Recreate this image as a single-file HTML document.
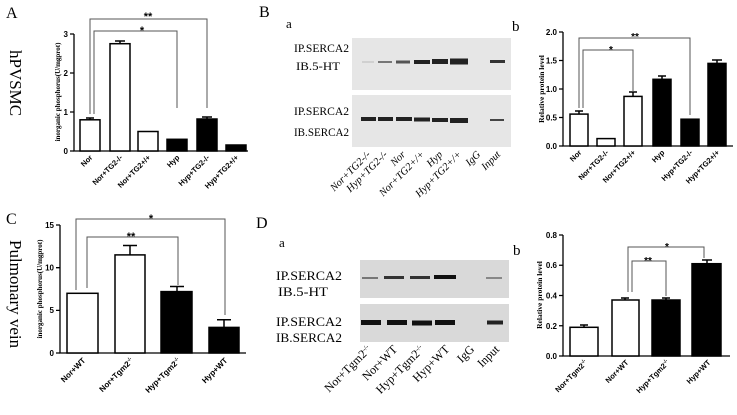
<!DOCTYPE html>
<html><head><meta charset="utf-8"><style>
html,body{margin:0;padding:0;background:#fff;}
svg{display:block;}
.s{font-family:"Liberation Serif",serif;}
.a{font-family:"Liberation Sans",sans-serif;font-weight:bold;}
</style></head><body>
<svg width="737" height="415" viewBox="0 0 737 415" xmlns="http://www.w3.org/2000/svg">
<rect width="737" height="415" fill="#fff"/>

<!-- Panel A -->
<text x="6" y="18" class="s" font-size="16">A</text>
<text class="s" font-size="17" transform="translate(10,50) rotate(90)">hPVSMC</text>
<text class="s" font-weight="bold" font-size="7" text-anchor="middle" transform="translate(60,92) rotate(-90)">inorganic phosphorus(U/mgprot)</text>
<g stroke="#000" stroke-width="1.3" fill="none">
<path d="M74,34 V151 H248"/>
<path d="M70,151H74M70,112H74M70,73H74M70,34H74"/>
</g>
<g class="a" font-size="8" text-anchor="end">
<text x="68" y="154">0</text><text x="68" y="115">1</text><text x="68" y="76">2</text><text x="68" y="37">3</text>
</g>
<g stroke="#000" stroke-width="1.5">
<rect x="80" y="119.8" width="20" height="31.2" fill="#fff"/>
<rect x="110" y="43.7" width="20" height="107.3" fill="#fff"/>
<rect x="138" y="131.5" width="20" height="19.5" fill="#fff"/>
<rect x="167" y="139.3" width="20" height="11.7" fill="#000"/>
<rect x="197" y="119" width="20" height="32" fill="#000"/>
<rect x="226" y="145" width="20" height="6" fill="#000"/>
<path d="M120,43.7V41M115,41H125M90,119.8V118M86,118H94M207,119V117M202,117H212" fill="none"/>
</g>
<g stroke="#555" stroke-width="1" fill="none">
<path d="M90,114V19H207V108"/>
<path d="M94,114V31H177V108"/>
</g>
<text x="148" y="20" class="a" font-size="11" text-anchor="middle">**</text>
<text x="142" y="34" class="a" font-size="11" text-anchor="middle">*</text>
<g class="a" font-size="7.5" text-anchor="end">
<text transform="translate(93,158) rotate(-45)">Nor</text>
<text transform="translate(123,158) rotate(-45)">Nor+TG2-/-</text>
<text transform="translate(151,158) rotate(-45)">Nor+TG2+/+</text>
<text transform="translate(180,158) rotate(-45)">Hyp</text>
<text transform="translate(210,158) rotate(-45)">Hyp+TG2-/-</text>
<text transform="translate(239,158) rotate(-45)">Hyp+TG2+/+</text>
</g>

<!-- Panel B a -->
<text x="259" y="17" class="s" font-size="16">B</text>
<text x="286" y="28" class="s" font-size="13">a</text>
<g class="s" font-size="12">
<text x="294" y="52" textLength="55" lengthAdjust="spacingAndGlyphs">IP.SERCA2</text>
<text x="296" y="70" textLength="44" lengthAdjust="spacingAndGlyphs">IB.5-HT</text>
<text x="294" y="115" textLength="55" lengthAdjust="spacingAndGlyphs">IP.SERCA2</text>
<text x="294" y="136" textLength="55" lengthAdjust="spacingAndGlyphs">IB.SERCA2</text>
</g>
<rect x="352" y="38" width="159" height="52" fill="#e6e6e6"/>
<rect x="352" y="95" width="159" height="52" fill="#e6e6e6"/>
<g fill="#222">
<rect x="362" y="61.5" width="12" height="1" fill="#bbb"/>
<rect x="378" y="61" width="14" height="2" fill="#777"/>
<rect x="396" y="60.5" width="14" height="3" fill="#555"/>
<rect x="414" y="60" width="16" height="4"/>
<rect x="432" y="59" width="16" height="5"/>
<rect x="450" y="58.5" width="18" height="6"/>
<rect x="490" y="60" width="15" height="3" fill="#333"/>
<rect x="361" y="117" width="15" height="4"/>
<rect x="378" y="117" width="15" height="4"/>
<rect x="396" y="117" width="16" height="4"/>
<rect x="414" y="117.5" width="16" height="4"/>
<rect x="432" y="118" width="16" height="4"/>
<rect x="450" y="118" width="18" height="5"/>
<rect x="490" y="119" width="14" height="2" fill="#444"/>
</g>
<g class="s" font-style="italic" font-size="10.5" text-anchor="end">
<text transform="translate(371,155) rotate(-45)">Nor+TG2-/-</text>
<text transform="translate(388,155) rotate(-45)">Hyp+TG2-/-</text>
<text transform="translate(406,155) rotate(-45)">Nor</text>
<text transform="translate(425,155) rotate(-45)">Nor+TG2+/+</text>
<text transform="translate(443,155) rotate(-45)">Hyp</text>
<text transform="translate(462,155) rotate(-45)">Hyp+TG2+/+</text>
<text transform="translate(481,155) rotate(-45)">IgG</text>
<text transform="translate(501,155) rotate(-45)">Input</text>
</g>

<!-- Panel B b -->
<text x="512" y="31" class="s" font-size="15">b</text>
<text class="s" font-weight="bold" font-size="7.5" text-anchor="middle" transform="translate(544,89) rotate(-90)">Relative protein level</text>
<g stroke="#000" stroke-width="1.3" fill="none">
<path d="M563,32V146H733"/>
<path d="M559,146H563M559,117.5H563M559,89H563M559,60.5H563M559,32H563"/>
</g>
<g class="a" font-size="8" text-anchor="end">
<text x="557" y="149">0.0</text><text x="557" y="120.5">0.5</text><text x="557" y="92">1.0</text><text x="557" y="63.5">1.5</text><text x="557" y="35">2.0</text>
</g>
<g stroke="#000" stroke-width="1.5">
<rect x="570" y="114.1" width="18" height="31.9" fill="#fff"/>
<rect x="597" y="138.6" width="18" height="7.4" fill="#fff"/>
<rect x="624" y="96.4" width="18" height="49.6" fill="#fff"/>
<rect x="653" y="79.3" width="18" height="66.7" fill="#000"/>
<rect x="681" y="119.2" width="18" height="26.8" fill="#000"/>
<rect x="708" y="63.4" width="18" height="82.6" fill="#000"/>
<path d="M579,114V111M575,111H583M633,96V92M629,92H637M662,79V76M658,76H666M717,63V60M712,60H722" fill="none"/>
</g>
<g stroke="#555" stroke-width="1" fill="none">
<path d="M579,108V38H690V115"/>
<path d="M583,108V50H633V92"/>
</g>
<text x="635" y="40" class="a" font-size="10" text-anchor="middle">**</text>
<text x="611" y="53" class="a" font-size="10" text-anchor="middle">*</text>
<g class="a" font-size="7.5" text-anchor="end">
<text transform="translate(582,153) rotate(-45)">Nor</text>
<text transform="translate(609,153) rotate(-45)">Nor+TG2-/-</text>
<text transform="translate(636,153) rotate(-45)">Nor+TG2+/+</text>
<text transform="translate(665,153) rotate(-45)">Hyp</text>
<text transform="translate(693,153) rotate(-45)">Hyp+TG2-/-</text>
<text transform="translate(720,153) rotate(-45)">Hyp+TG2+/+</text>
</g>

<!-- Panel C -->
<text x="6" y="224" class="s" font-size="16">C</text>
<text class="s" font-size="17" transform="translate(10,240) rotate(90)">Pulmonary vein</text>
<text class="s" font-weight="bold" font-size="7" text-anchor="middle" transform="translate(42,289) rotate(-90)">inorganic phosphorus(U/mgprot)</text>
<g stroke="#000" stroke-width="1.3" fill="none">
<path d="M60,225V353H246"/>
<path d="M56,353H60M56,310.4H60M56,267.7H60M56,225H60"/>
</g>
<g class="a" font-size="8" text-anchor="end">
<text x="54" y="356">0</text><text x="54" y="313">5</text><text x="54" y="270.5">10</text><text x="54" y="228">15</text>
</g>
<g stroke="#000" stroke-width="1.5">
<rect x="67" y="293.3" width="31" height="59.7" fill="#fff"/>
<rect x="115" y="254.9" width="30" height="98.1" fill="#fff"/>
<rect x="161" y="291.6" width="31" height="61.4" fill="#000"/>
<rect x="209" y="327.4" width="30" height="25.6" fill="#000"/>
<path d="M130,255V245.5M123,245.5H137M177,291V286.5M170,286.5H184M224,327V319.7M217,319.7H231" fill="none"/>
</g>
<g stroke="#555" stroke-width="1" fill="none">
<path d="M76,290V219H225V315"/>
<path d="M87,288V237H178V285"/>
</g>
<text x="151" y="222" class="a" font-size="11" text-anchor="middle">*</text>
<text x="131" y="240" class="a" font-size="11" text-anchor="middle">**</text>
<g class="a" font-size="8" text-anchor="end">
<text transform="translate(86,361) rotate(-45)">Nor+WT</text>
<text transform="translate(134,361) rotate(-45)">Nor+Tgm2<tspan font-size="5" dy="-3">-/-</tspan></text>
<text transform="translate(181,361) rotate(-45)">Hyp+Tgm2<tspan font-size="5" dy="-3">-/-</tspan></text>
<text transform="translate(228,361) rotate(-45)">Hyp+WT</text>
</g>

<!-- Panel D a -->
<text x="256" y="228" class="s" font-size="16">D</text>
<text x="279" y="247" class="s" font-size="13">a</text>
<g class="s" font-size="13">
<text x="276" y="280" textLength="66" lengthAdjust="spacingAndGlyphs">IP.SERCA2</text>
<text x="278" y="296" textLength="50" lengthAdjust="spacingAndGlyphs">IB.5-HT</text>
<text x="276" y="326" textLength="66" lengthAdjust="spacingAndGlyphs">IP.SERCA2</text>
<text x="276" y="342" textLength="66" lengthAdjust="spacingAndGlyphs">IB.SERCA2</text>
</g>
<rect x="360" y="260" width="149" height="38" fill="#d9d9d9"/>
<rect x="360" y="304" width="149" height="38" fill="#d9d9d9"/>
<path d="M362,278H378" stroke="#777" stroke-width="2"/>
<path d="M384,277.5H404" stroke="#333" stroke-width="3"/>
<path d="M410,277.5H430" stroke="#333" stroke-width="3"/>
<path d="M434,277H456" stroke="#111" stroke-width="4"/>
<path d="M486,278H502" stroke="#888" stroke-width="2"/>
<path d="M361,322.5H381" stroke="#111" stroke-width="5"/>
<path d="M387,322.5H407" stroke="#111" stroke-width="5"/>
<path d="M412,323H432" stroke="#111" stroke-width="5"/>
<path d="M435,322.5H455" stroke="#111" stroke-width="5"/>
<path d="M487,322.5H503" stroke="#222" stroke-width="4"/>
<g class="s" font-size="12" text-anchor="end">
<text transform="translate(372,350) rotate(-45)">Nor+Tgm2<tspan font-size="7" dy="-4">-/-</tspan></text>
<text transform="translate(398,350) rotate(-45)">Nor+WT</text>
<text transform="translate(425,350) rotate(-45)">Hyp+Tgm2<tspan font-size="7" dy="-4">-/-</tspan></text>
<text transform="translate(450,350) rotate(-45)">Hyp+WT</text>
<text transform="translate(475,350) rotate(-45)">IgG</text>
<text transform="translate(500,350) rotate(-45)">Input</text>
</g>

<!-- Panel D b -->
<text x="513" y="255" class="s" font-size="15">b</text>
<text class="s" font-weight="bold" font-size="7.5" text-anchor="middle" transform="translate(542,295) rotate(-90)">Relative protein level</text>
<g stroke="#000" stroke-width="1.3" fill="none">
<path d="M563,235V356H730"/>
<path d="M559,356H563M559,325.75H563M559,295.5H563M559,265.25H563M559,235H563"/>
</g>
<g class="a" font-size="8" text-anchor="end">
<text x="557" y="359">0.0</text><text x="557" y="329">0.2</text><text x="557" y="298.5">0.4</text><text x="557" y="268">0.6</text><text x="557" y="238">0.8</text>
</g>
<g stroke="#000" stroke-width="1.5">
<rect x="570" y="327.3" width="28" height="28.7" fill="#fff"/>
<rect x="612" y="300" width="27" height="56" fill="#fff"/>
<rect x="652" y="300" width="28" height="56" fill="#000"/>
<rect x="692" y="263.7" width="29" height="92.3" fill="#000"/>
<path d="M584,327V325M580,325H588M625,300V298M621,298H629M666,300V298M662,298H670M707,263V260M702,260H712" fill="none"/>
</g>
<g stroke="#555" stroke-width="1" fill="none">
<path d="M628,292V247H704V258"/>
<path d="M632,292V261H666V296"/>
</g>
<text x="667" y="250" class="a" font-size="10" text-anchor="middle">*</text>
<text x="648" y="264" class="a" font-size="10" text-anchor="middle">**</text>
<g class="a" font-size="7.5" text-anchor="end">
<text transform="translate(588,363) rotate(-45)">Nor+Tgm2<tspan font-size="5" dy="-3">-/-</tspan></text>
<text transform="translate(629,363) rotate(-45)">Nor+WT</text>
<text transform="translate(670,363) rotate(-45)">Hyp+Tgm2<tspan font-size="5" dy="-3">-/-</tspan></text>
<text transform="translate(711,363) rotate(-45)">Hyp+WT</text>
</g>
</svg>
</body></html>
